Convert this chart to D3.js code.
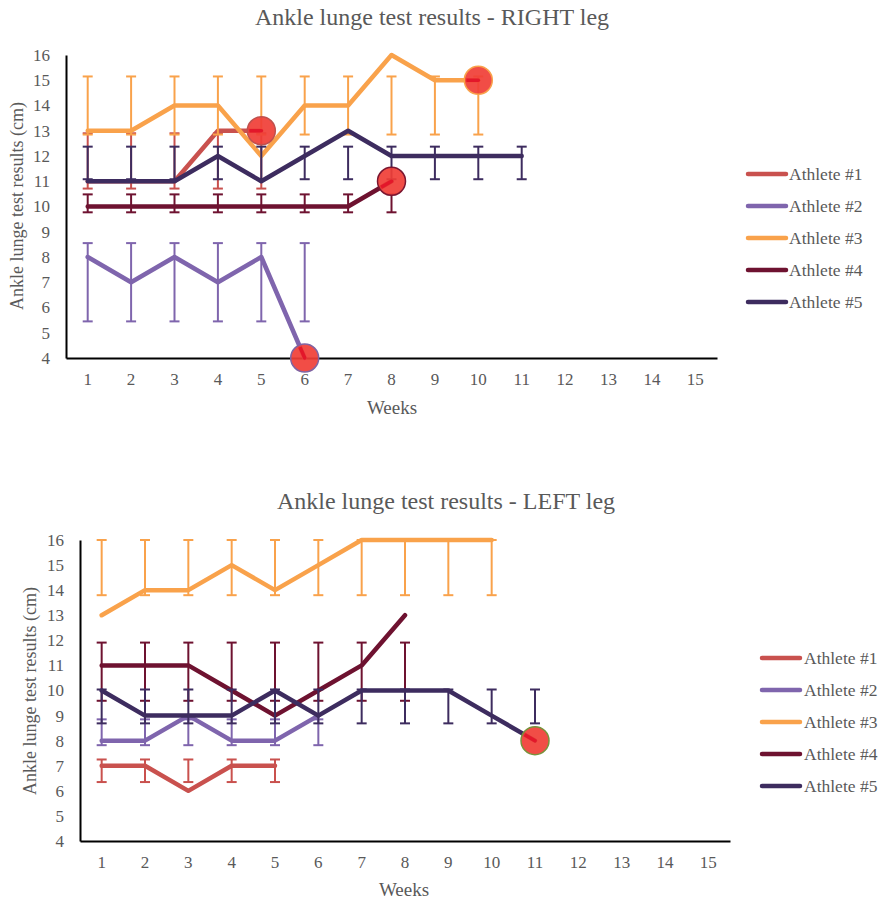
<!DOCTYPE html>
<html>
<head>
<meta charset="utf-8">
<script src="https://cdn.jsdelivr.net/npm/d3@7"></script>
<style>
  html, body { margin: 0; padding: 0; background: #ffffff; }
  svg { display: block; }
</style>
</head>
<body>
<svg id="chart" width="883" height="901"></svg>
<script>
// ---------- DATA ----------
const weeks = [1, 2, 3, 4, 5, 6, 7, 8, 9, 10, 11, 12, 13, 14, 15];
const yTicks = [4, 5, 6, 7, 8, 9, 10, 11, 12, 13, 14, 15, 16];
const athletes = ["Athlete #1", "Athlete #2", "Athlete #3", "Athlete #4", "Athlete #5"];
const colors = ["#c9514e", "#7f65ad", "#f9a24b", "#6e1230", "#3d2c5f"];

// RIGHT leg (values by week, starting at week 1)
const rightA1 = [11, 11, 11, 13, 13];
const rightA2 = [8, 7, 8, 7, 8, 4];
const rightA3 = [13, 13, 14, 14, 12, 14, 14, 16, 15, 15];
const rightA4 = [10, 10, 10, 10, 10, 10, 10, 11];
const rightA5 = [11, 11, 11, 12, 11, 12, 13, 12, 12, 12, 12];
const rightErrLow = [10.71, 5.45, 12.85, 9.77, 11.08];
const rightErrHigh = [12.9, 8.55, 15.15, 10.48, 12.37];
const rightMarkAthlete = [0, 1, 2, 3];
const rightMarkWeek = [5, 6, 10, 8];
const rightMarkStroke = ["#c0504d", "#8064a2", "#f9a24b", "#7b1630"];

// LEFT leg
const leftA1 = [7, 7, 6, 7, 7];
const leftA2 = [8, 8, 9, 8, 8, 9];
const leftA3 = [13, 14, 14, 15, 14, 15, 16, 16, 16, 16];
const leftA4 = [11, 11, 11, 10, 9, 10, 11, 13];
const leftA5 = [10, 9, 9, 9, 10, 9, 10, 10, 10, 9, 8];
const leftErrLow = [6.35, 7.82, 13.8, 9.59, 8.69];
const leftErrHigh = [7.25, 8.85, 16.0, 11.91, 10.04];
const leftMarkAthlete = [4];
const leftMarkWeek = [11];
const leftMarkStroke = ["#77933c"];

// ---------- DRAW ----------
const svg = d3.select("#chart");
svg.append("rect").attr("width", 883).attr("height", 901).attr("fill", "#ffffff");
const FONT = "'Liberation Serif', 'Times New Roman', serif";
const TEXT = "#595959";
let clipId = 0;

function drawChart(cfg) {
  const g = svg.append("g");
  const x = d3.scaleBand().domain(weeks).range([cfg.xLeft, cfg.xRight]);
  const cx = w => x(w) + x.bandwidth() / 2;
  const y = d3.scaleLinear().domain([4, 16]).range([cfg.yBottom, cfg.yTop]);

  // title
  g.append("text").attr("x", cfg.titleX).attr("y", cfg.titleY)
    .attr("text-anchor", "middle").attr("font-family", FONT).attr("font-size", 24)
    .attr("fill", TEXT).text(cfg.title);

  // axes
  const xAxis = g.append("g").attr("transform", `translate(0,${cfg.yBottom})`)
    .call(d3.axisBottom(x).tickSize(0).tickPadding(15));
  const yAxis = g.append("g").attr("transform", `translate(${cfg.xLeft},0)`)
    .call(d3.axisLeft(y).tickValues(yTicks).tickSize(0).tickPadding(16).tickFormat(d3.format("d")));
  [xAxis, yAxis].forEach(a => {
    a.select(".domain").attr("stroke", "#000").attr("stroke-width", 2);
    a.selectAll("text").attr("font-family", FONT).attr("font-size", 17).attr("fill", TEXT);
  });

  // axis titles
  g.append("text").attr("x", cfg.weeksX).attr("y", cfg.weeksY).attr("text-anchor", "middle")
    .attr("font-family", FONT).attr("font-size", 19).attr("fill", TEXT).text("Weeks");
  g.append("text").attr("transform", `translate(${cfg.ylabX},${cfg.ylabY}) rotate(-90)`)
    .attr("text-anchor", "middle").attr("dy", "0.35em")
    .attr("font-family", FONT).attr("font-size", 18).attr("fill", TEXT)
    .text("Ankle lunge test results (cm)");

  const line = d3.line().x(d => cx(d.w)).y(d => y(d.v));

  cfg.series.forEach((vals, i) => {
    const pts = vals.map((v, k) => ({ w: weeks[k], v }));
    const col = colors[i];
    // error bars
    const eb = g.append("g").attr("stroke", col).attr("stroke-width", 2);
    pts.forEach(p => {
      const px = cx(p.w);
      const lo = y(cfg.errLow[i]), hi = y(cfg.errHigh[i]);
      eb.append("line").attr("x1", px).attr("x2", px).attr("y1", lo).attr("y2", hi);
      eb.append("line").attr("x1", px - 5).attr("x2", px + 5).attr("y1", lo).attr("y2", lo);
      eb.append("line").attr("x1", px - 5).attr("x2", px + 5).attr("y1", hi).attr("y2", hi);
    });
    // line
    g.append("path").datum(pts).attr("d", line).attr("fill", "none")
      .attr("stroke", col).attr("stroke-width", 4.5)
      .attr("stroke-linejoin", "round").attr("stroke-linecap", "round");
  });

  // highlight circles
  cfg.markAthlete.forEach((ai, j) => {
    const vals = cfg.series[ai];
    const k = weeks.indexOf(cfg.markWeek[j]);
    const px = cx(weeks[k]), py = y(vals[k]);
    g.append("circle").attr("cx", px).attr("cy", py).attr("r", 14)
      .attr("fill", "#f03e36").attr("fill-opacity", 0.92)
      .attr("stroke", cfg.markStroke[j]).attr("stroke-width", 1.5);
    if (k > 0) {
      const id = "clip" + (clipId++);
      g.append("clipPath").attr("id", id).append("circle")
        .attr("cx", px).attr("cy", py).attr("r", 12);
      g.append("line").attr("clip-path", `url(#${id})`)
        .attr("x1", cx(weeks[k - 1])).attr("y1", y(vals[k - 1]))
        .attr("x2", px).attr("y2", py)
        .attr("stroke", "#e3172a").attr("stroke-width", 3.5).attr("stroke-linecap", "round");
    }
  });

  // legend
  athletes.forEach((name, i) => {
    const ly = cfg.legendY0 + i * cfg.legendDY;
    g.append("line").attr("x1", cfg.legendX1).attr("x2", cfg.legendX2)
      .attr("y1", ly).attr("y2", ly).attr("stroke", colors[i])
      .attr("stroke-width", 4.5).attr("stroke-linecap", "round");
    g.append("text").attr("x", cfg.legendTextX).attr("y", ly).attr("dy", "0.35em")
      .attr("font-family", FONT).attr("font-size", 17.5).attr("fill", TEXT).text(name);
  });
}

drawChart({
  title: "Ankle lunge test results - RIGHT leg",
  xLeft: 66, xRight: 717, yTop: 55, yBottom: 358,
  titleX: 432, titleY: 25, weeksX: 392, weeksY: 414, ylabX: 17, ylabY: 206,
  legendX1: 748, legendX2: 786, legendTextX: 789, legendY0: 174, legendDY: 32,
  series: [rightA1, rightA2, rightA3, rightA4, rightA5],
  errLow: rightErrLow, errHigh: rightErrHigh,
  markAthlete: rightMarkAthlete, markWeek: rightMarkWeek, markStroke: rightMarkStroke
});

drawChart({
  title: "Ankle lunge test results - LEFT leg",
  xLeft: 80, xRight: 730, yTop: 540, yBottom: 841,
  titleX: 446, titleY: 509, weeksX: 404, weeksY: 896, ylabX: 30, ylabY: 691,
  legendX1: 762, legendX2: 800, legendTextX: 804, legendY0: 658, legendDY: 32,
  series: [leftA1, leftA2, leftA3, leftA4, leftA5],
  errLow: leftErrLow, errHigh: leftErrHigh,
  markAthlete: leftMarkAthlete, markWeek: leftMarkWeek, markStroke: leftMarkStroke
});
</script>
</body>
</html>
